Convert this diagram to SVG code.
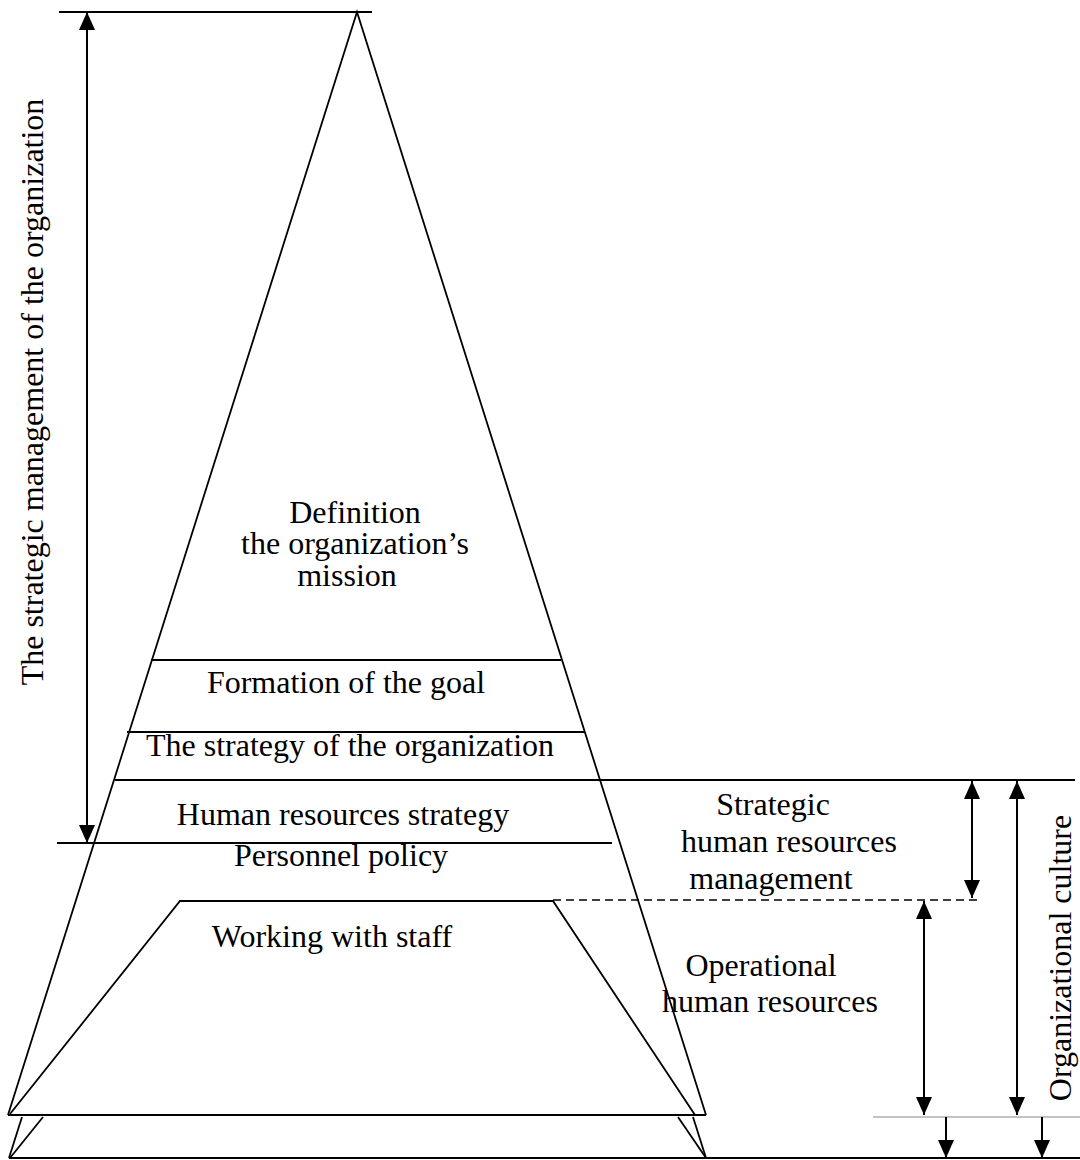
<svg xmlns="http://www.w3.org/2000/svg" width="1080" height="1160" viewBox="0 0 1080 1160">
<style>
.ln{stroke:#000;stroke-width:1.8;fill:none}
.thin{stroke:#888;stroke-width:1.2;fill:none}
.dash{stroke:#000;stroke-width:1.6;fill:none;stroke-dasharray:8 5}
.ar{stroke:#000;stroke-width:2;fill:none}
text{font-family:"Liberation Serif","Times New Roman",serif;font-size:32px;fill:#000;text-anchor:middle}
</style>
<defs>
<marker id="ah" markerUnits="userSpaceOnUse" markerWidth="18" markerHeight="16" refX="18" refY="8" orient="auto-start-reverse" viewBox="0 0 18 16">
<path d="M0,0 L18,8 L0,16 z" fill="#000"/>
</marker>
</defs>
<rect width="1080" height="1160" fill="#fff"/>
<g id="pyramid">
<line class="ln" x1="59" y1="12" x2="372" y2="12"/>
<polyline class="ln" points="8,1115 357,12 706,1115"/>
<line class="ln" x1="8" y1="1115" x2="706" y2="1115"/>
<line class="ln" x1="151" y1="660" x2="561" y2="660"/>
<line class="ln" x1="127" y1="732" x2="585" y2="732"/>
<line class="ln" x1="115" y1="780" x2="1075" y2="780"/>
<line class="ln" x1="57" y1="843" x2="612" y2="843"/>
</g>
<g id="working-with-staff">
<polyline class="ln" points="10,1114 180,901 553,901 695,1115"/>
</g>
<g id="base">
<line class="ln" x1="22" y1="1117" x2="9" y2="1158"/>
<line class="ln" x1="43" y1="1117" x2="10" y2="1158"/>
<line class="ln" x1="678" y1="1117" x2="706" y2="1158"/>
<line class="ln" x1="693" y1="1117" x2="706" y2="1158"/>
<line class="ln" x1="9" y1="1158" x2="1080" y2="1158"/>
<line class="thin" x1="873" y1="1117" x2="1080" y2="1117"/>
</g>
<g id="connectors">
<line class="dash" x1="553" y1="900" x2="982" y2="900"/>
<line class="ar" x1="87" y1="12" x2="87" y2="843" marker-start="url(#ah)" marker-end="url(#ah)"/>
<line class="ar" x1="972" y1="781" x2="972" y2="898" marker-start="url(#ah)" marker-end="url(#ah)"/>
<line class="ar" x1="1017" y1="781" x2="1017" y2="1115" marker-start="url(#ah)" marker-end="url(#ah)"/>
<line class="ar" x1="924" y1="901" x2="924" y2="1115" marker-start="url(#ah)" marker-end="url(#ah)"/>
<line class="ar" x1="946" y1="1117" x2="946" y2="1158" marker-end="url(#ah)"/>
<line class="ar" x1="1042" y1="1117" x2="1042" y2="1158" marker-end="url(#ah)"/>
</g>
<g id="labels">
<text x="355" y="523">Definition</text>
<text x="355" y="554">the organization’s</text>
<text x="347" y="586">mission</text>
<text x="346" y="693">Formation of the goal</text>
<text x="350" y="756">The strategy of the organization</text>
<text x="343" y="825">Human resources strategy</text>
<text x="341" y="866">Personnel policy</text>
<text x="332" y="947">Working with staff</text>
<text x="773" y="815">Strategic</text>
<text x="789" y="852">human resources</text>
<text x="771" y="889">management</text>
<text x="761" y="976">Operational</text>
<text x="770" y="1012">human resources</text>
<text transform="translate(43,392) rotate(-90)">The strategic management of the organization</text>
<text transform="translate(1071,958) rotate(-90)">Organizational culture</text>
</g>
</svg>
